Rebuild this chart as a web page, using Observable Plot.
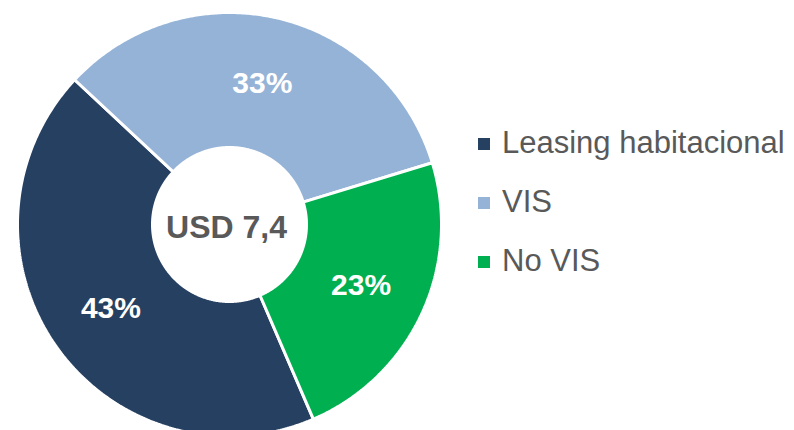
<!DOCTYPE html>
<html>
<head>
<meta charset="utf-8">
<script src="https://cdn.jsdelivr.net/npm/d3@7"></script>
<script src="https://cdn.jsdelivr.net/npm/@observablehq/plot@0.6"></script>
<style>
  html, body { margin: 0; padding: 0; background: #fff; }
  #wrap { position: relative; width: 794px; height: 430px; overflow: hidden; font-family: "Liberation Sans", Arial, sans-serif; }
  #legend { position: absolute; left: 478px; top: 113px; }
  .row { position: relative; height: 59px; line-height: 59px; font-size: 31px; color: #595959; white-space: nowrap; }
  .sw { position: absolute; left: 0; top: 25px; width: 12px; height: 12px; }
  .lab { position: absolute; left: 24px; top: 0; }
</style>
</head>
<body>
<div id="wrap"></div>
<script>
// ---- data ----
const categories = ["Leasing habitacional", "VIS", "No VIS"];
const shares = [43, 33, 23];           // percent
const colors = ["#264062", "#95B3D7", "#00B050"];
const centerLabel = ["USD 7,4"];

// ---- geometry (pixel units, y up) ----
const R = 212, r0 = 77, labelR = 145;
const startDeg = 156.7;
const total = d3.sum(shares);
const rad = d => d * Math.PI / 180;

const polyRows = [];
const labelRows = [];
let a = startDeg;
categories.forEach((cat, i) => {
  const span = shares[i] / total * 360;
  const a0 = a, a1 = a + span;
  const n = Math.ceil(span * 2);
  const pts = [];
  for (let k = 0; k <= n; k++) {
    const t = rad(a0 + (a1 - a0) * k / n);
    pts.push({cat, x: R * Math.sin(t), y: R * Math.cos(t)});
  }
  for (let k = n; k >= 0; k--) {
    const t = rad(a0 + (a1 - a0) * k / n);
    pts.push({cat, x: r0 * Math.sin(t), y: r0 * Math.cos(t)});
  }
  pts.push({...pts[0]});
  polyRows.push(...pts);
  const m = rad((a0 + a1) / 2);
  labelRows.push({label: shares[i] + "%", x: labelR * Math.sin(m), y: labelR * Math.cos(m)});
  a = a1;
});

const chart = Plot.plot({
  width: 794,
  height: 430,
  margin: 0,
  x: {domain: [-229, 565], axis: null},
  y: {domain: [-206, 224], axis: null},
  color: {domain: categories, range: colors},
  style: {fontFamily: "'Liberation Sans', Arial, sans-serif", background: "#fff"},
  marks: [
    Plot.line(polyRows, {x: "x", y: "y", z: "cat", fill: "cat", stroke: "white", strokeWidth: 3, curve: "linear", strokeLinejoin: "miter"}),
    Plot.text(labelRows, {x: "x", y: "y", text: "label", fill: "white", fontSize: 30, fontWeight: "bold"}),
    Plot.text(centerLabel, {x: () => 0, y: () => 0, text: d => d, fill: "#595959", fontSize: 32, fontWeight: "bold", dx: -3, dy: 3})
  ]
});

const wrap = document.getElementById("wrap");
wrap.appendChild(chart);

const legend = document.createElement("div");
legend.id = "legend";
categories.forEach((cat, i) => {
  const row = document.createElement("div");
  row.className = "row";
  const sw = document.createElement("span");
  sw.className = "sw";
  sw.style.background = colors[i];
  const lab = document.createElement("span");
  lab.className = "lab";
  lab.textContent = cat;
  row.appendChild(sw);
  row.appendChild(lab);
  legend.appendChild(row);
});
wrap.appendChild(legend);
</script>
</body>
</html>
